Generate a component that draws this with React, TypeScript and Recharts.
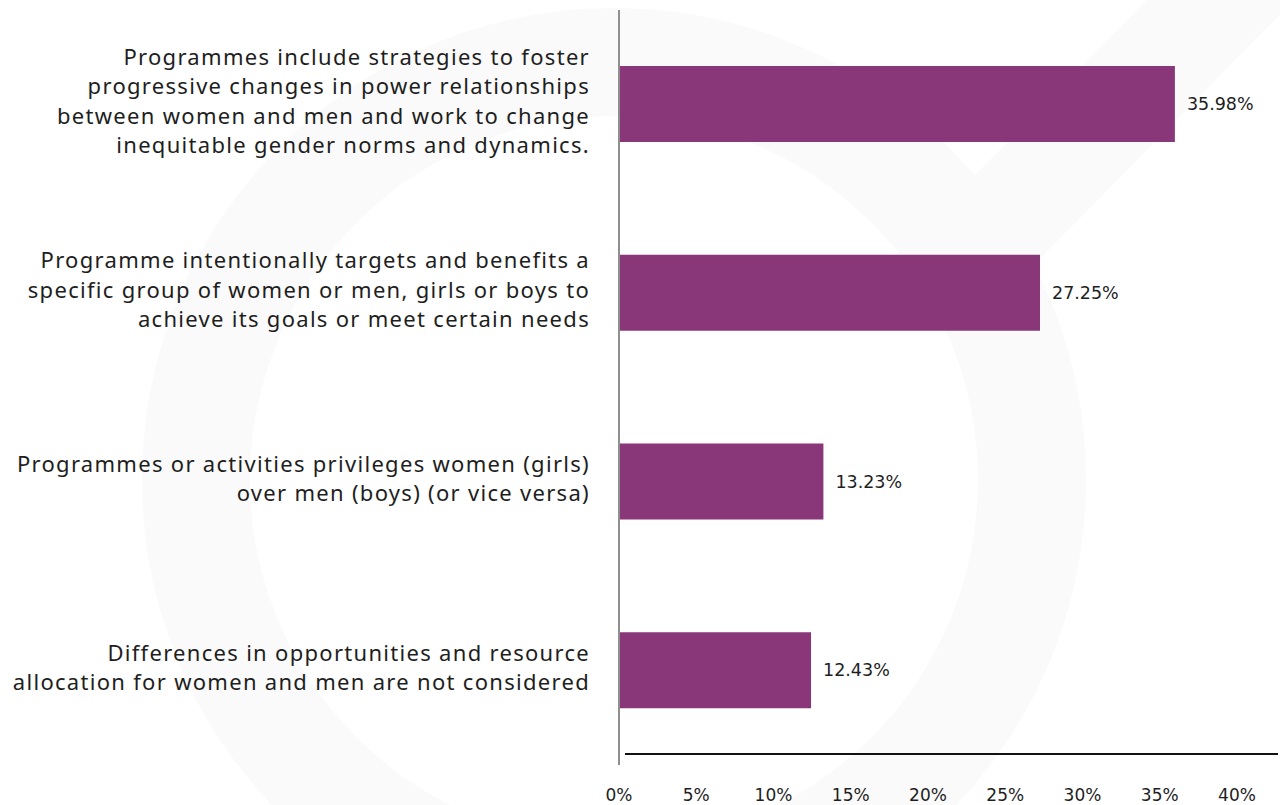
import React from 'react';
import { BarChart, Bar, XAxis, YAxis, LabelList } from 'recharts';

// Survey: share of programmes by gender approach
const categories = [
    'Programmes include strategies to foster\nprogressive changes in power relationships\nbetween women and men and work to change\ninequitable gender norms and dynamics.',
    'Programme intentionally targets and benefits a\nspecific group of women or men, girls or boys to\nachieve its goals or meet certain needs',
    'Programmes or activities privileges women (girls)\nover men (boys) (or vice versa)',
    'Differences in opportunities and resource\nallocation for women and men are not considered',
];
const shares = [35.98, 27.25, 13.23, 12.43];
const xTicks = [0, 5, 10, 15, 20, 25, 30, 35, 40];

const WIDTH = 1280;
const HEIGHT = 805;
const MARGIN = { top: 10, right: 43, bottom: 0, left: 0 };
const Y_AXIS_W = 619;
const X_AXIS_H = 40;
const BAR_COLOR = '#893778';
const TEXT = '#1e1e1e';
const WATERMARK = '#fafafa';
const LABEL_FONT = '"Noto Sans", sans-serif';
const NUM_FONT = '"DejaVu Sans", sans-serif';

const chartData = categories.map((name, i) => ({ name, value: shares[i] }));

function CategoryTick({ x, y, payload }: { x?: number; y?: number; payload?: { value: string } }) {
    if (x == null || y == null || !payload) return null;
    const lines = String(payload.value).split('\n');
    const lh = 29.5;
    const top = y - ((lines.length - 1) * lh) / 2 - 3;
    return (
        <text
            x={x}
            y={top}
            textAnchor="end"
            fontSize={22}
            letterSpacing={1.3}
            fill={TEXT}
            fontFamily={LABEL_FONT}
        >
            {lines.map((line, i) => (
                <tspan key={i} x={x} dy={i === 0 ? '0.35em' : lh}>
                    {line}
                </tspan>
            ))}
        </text>
    );
}

// faint logo watermark behind the chart
function Watermark() {
    return (
        <svg width={WIDTH} height={HEIGHT} style={{ position: 'absolute', left: 0, top: 0 }}>
            <circle cx={614} cy={480} r={418} fill="none" stroke={WATERMARK} strokeWidth={108} />
            <line x1={1250} y1={-30} x2={975} y2={250} stroke={WATERMARK} strokeWidth={105} />
        </svg>
    );
}

export default function App() {
    const plotBottom = HEIGHT - MARGIN.bottom - X_AXIS_H;
    return (
        <div style={{ position: 'absolute', left: 0, top: 0, width: WIDTH, height: HEIGHT, background: '#fff' }}>
            <Watermark />
            <div style={{ position: 'absolute', left: 0, top: 0 }}>
                <BarChart
                    width={WIDTH}
                    height={HEIGHT}
                    data={chartData}
                    layout="vertical"
                    margin={MARGIN}
                    barCategoryGap={0}
                >
                    <XAxis
                        type="number"
                        domain={[0, 40]}
                        ticks={xTicks}
                        height={X_AXIS_H}
                        axisLine={false}
                        tickLine={false}
                        tickSize={0}
                        tickMargin={24}
                        interval={0}
                        tickFormatter={(v: number) => `${v}%`}
                        tick={{ fontSize: 17, fill: TEXT, fontFamily: NUM_FONT }}
                    />
                    <YAxis
                        type="category"
                        dataKey="name"
                        width={Y_AXIS_W}
                        axisLine={{ stroke: '#8f8f8f', strokeWidth: 2 }}
                        tickLine={false}
                        tickSize={0}
                        tickMargin={29}
                        interval={0}
                        tick={<CategoryTick />}
                    />
                    <Bar dataKey="value" fill={BAR_COLOR} barSize={76} isAnimationActive={false}>
                        <LabelList
                            dataKey="value"
                            position="right"
                            offset={12}
                            formatter={(v: unknown) => `${Number(v).toFixed(2)}%`}
                            style={{ fontSize: 17.5, fill: TEXT, fontFamily: NUM_FONT }}
                        />
                    </Bar>
                </BarChart>
            </div>
            {/* baseline rule under the bars */}
            <svg width={WIDTH} height={HEIGHT} style={{ position: 'absolute', left: 0, top: 0, pointerEvents: 'none' }}>
                <line x1={625} y1={plotBottom - 11} x2={1278} y2={plotBottom - 11} stroke="#111" strokeWidth={2} />
            </svg>
        </div>
    );
}
